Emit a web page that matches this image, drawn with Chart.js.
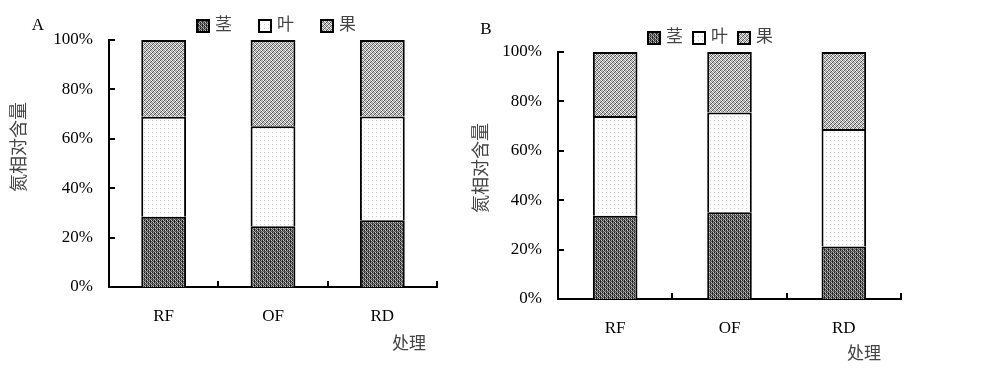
<!DOCTYPE html>
<html>
<head>
<meta charset="utf-8">
<script src="https://cdn.jsdelivr.net/npm/chart.js@4"></script>
<style>
body { margin: 0; background: #fff; width: 1000px; height: 368px; position: relative; overflow: hidden; }
canvas { position: absolute; top: 0; }
#chartA { left: 0; }
#chartB { left: 470px; }
</style>
</head>
<body>
<canvas id="chartA" width="470" height="368"></canvas>
<canvas id="chartB" width="530" height="368"></canvas>
<script>
// data (% of total N)
const categories = ['RF', 'OF', 'RD'];
const seriesNames = ['茎', '叶', '果'];
const stemA = [28.4, 24.6, 27.0];
const leafA = [40.5, 40.5, 42.0];
const fruitA = [31.1, 34.9, 31.0];
const stemB = [33.7, 35.1, 21.3];
const leafB = [40.4, 40.4, 47.5];
const fruitB = [25.9, 24.5, 31.2];
const yTicks = [0, 20, 40, 60, 80, 100];

const serif = '"Liberation Serif", "Noto Sans CJK SC", serif';
Chart.defaults.font.family = serif;
Chart.defaults.color = '#000';

function makePattern(rows) {
    const c = document.createElement('canvas');
    c.width = rows[0].length;
    c.height = rows.length;
    const g = c.getContext('2d');
    rows.forEach((r, y) => r.forEach((col, x) => {
        g.fillStyle = col;
        g.fillRect(x, y, 1, 1);
    }));
    return g.createPattern(c, 'repeat');
}
const K = '#222', D = '#555', M = '#999', L = '#ccc', W = '#fff';
const stemFill = makePattern([
    [K, M, K, L],
    [M, D, K, D],
    [K, L, K, M],
    [D, D, M, D]
]);
const leafFill = makePattern([
    [L, W, W, W],
    [W, W, W, W],
    [W, W, W, W],
    [W, W, W, W]
]);
const fruitFill = makePattern([
    [D, L, M, W],
    [W, M, L, D],
    [M, W, D, L],
    [L, D, W, M]
]);
const fills = [stemFill, leafFill, fruitFill];

const decor = {
    id: 'decor',
    afterDraw(chart, args, o) {
        const ctx = chart.ctx;
        const area = chart.chartArea;
        const xs = chart.scales.x, ys = chart.scales.y;
        ctx.save();
        ctx.strokeStyle = '#000';
        ctx.lineWidth = 2;
        // inward ticks
        yTicks.forEach(v => {
            if (v === 0) return;
            const py = Math.round(ys.getPixelForValue(v));
            ctx.beginPath();
            ctx.moveTo(area.left, py);
            ctx.lineTo(area.left + 6, py);
            ctx.stroke();
        });
        const band = xs.width / categories.length;
        categories.forEach((c, i) => {
            const px = Math.round(xs.getPixelForValue(i) + band / 2);
            ctx.beginPath();
            ctx.moveTo(px, area.bottom);
            ctx.lineTo(px, area.bottom - 6);
            ctx.stroke();
        });
        // legend
        ctx.font = '17px ' + serif;
        ctx.textBaseline = 'middle';
        ctx.textAlign = 'left';
        chart.data.datasets.forEach((ds, i) => {
            const bx = o.legendX[i], by = o.legendY;
            ctx.fillStyle = ds.backgroundColor;
            ctx.fillRect(bx, by - 6, 12, 12);
            ctx.strokeRect(bx, by - 6, 12, 12);
            ctx.fillStyle = '#444';
            ctx.fillText(ds.label, bx + 18, by);
        });
        // panel letter
        ctx.fillStyle = '#000';
        ctx.font = '17px ' + serif;
        ctx.textAlign = 'center';
        ctx.fillText(o.letter, o.letterX, o.letterY);
        // axis titles
        ctx.fillStyle = '#444';
        ctx.fillText('处理', o.xTitleX, o.xTitleY);
        ctx.font = '18px ' + serif;
        ctx.translate(o.yTitleX, o.yTitleY);
        ctx.rotate(-Math.PI / 2);
        ctx.fillText('氮相对含量', 0, 0);
        ctx.restore();
    }
};

function makeChart(id, stem, leaf, fruit, lay) {
    const vals = [stem, leaf, fruit];
    return new Chart(document.getElementById(id), {
        type: 'bar',
        data: {
            labels: categories,
            datasets: seriesNames.map((n, i) => ({
                label: n,
                data: vals[i],
                backgroundColor: fills[i],
                borderColor: '#000',
                borderWidth: 2,
                categoryPercentage: 1,
                barPercentage: lay.bar
            }))
        },
        options: {
            responsive: false,
            animation: false,
            layout: {
                padding: { left: 0, top: lay.top, right: lay.right, bottom: 0 }
            },
            scales: {
                x: {
                    stacked: true,
                    afterFit: s => { s.height = 368 - lay.bottom; },
                    grid: { display: false, drawTicks: false },
                    border: { color: '#000', width: 2 },
                    ticks: { padding: 19, font: { size: 17 }, color: '#000' }
                },
                y: {
                    stacked: true,
                    min: 0,
                    max: 100,
                    afterFit: s => { s.width = lay.axisX; },
                    afterBuildTicks: s => { s.ticks = yTicks.map(v => ({ value: v })); },
                    grid: { display: false, drawTicks: false },
                    border: { color: '#000', width: 2 },
                    ticks: {
                        padding: 16,
                        font: { size: 17 },
                        color: '#000',
                        callback: v => v + '%'
                    }
                }
            },
            plugins: {
                legend: { display: false },
                tooltip: { enabled: false },
                decor: lay.decor
            }
        },
        plugins: [decor]
    });
}

makeChart('chartA', stemA, leafA, fruitA, {
    axisX: 109, top: 40, bottom: 287, right: 33, bar: 0.41,
    decor: {
        legendX: [197, 259, 321], legendY: 26,
        letter: 'A', letterX: 38, letterY: 26,
        xTitleX: 409, xTitleY: 345,
        yTitleX: 20, yTitleY: 147
    }
});
makeChart('chartB', stemB, leafB, fruitB, {
    axisX: 88, top: 52, bottom: 299, right: 99, bar: 0.39,
    decor: {
        legendX: [178, 223, 268], legendY: 38,
        letter: 'B', letterX: 16, letterY: 30,
        xTitleX: 394, xTitleY: 355,
        yTitleX: 12, yTitleY: 168
    }
});
</script>
</body>
</html>
